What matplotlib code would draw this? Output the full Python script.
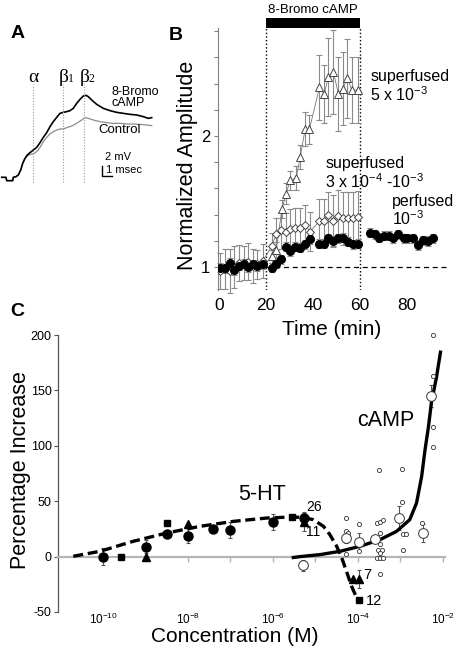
import matplotlib
matplotlib.use('Agg')
import matplotlib.pyplot as plt
import numpy as np

plt.rcParams['font.family'] = ['Liberation Sans', 'DejaVu Sans']
plt.rcParams['mathtext.fontset'] = 'custom'
plt.rcParams['mathtext.rm'] = 'Liberation Sans'
plt.rcParams['mathtext.it'] = 'Liberation Sans:italic'
plt.rcParams['mathtext.bf'] = 'Liberation Sans:bold'
plt.rcParams['axes.unicode_minus'] = False

# ---------------- Panel A : EPSP traces (ms, mV) ----------------
a_drug_ms = [0.17, 0.6, 0.67, 1.27, 1.33, 1.6, 1.83, 2.07, 2.27, 2.5, 2.73, 3.0, 3.33, 3.67, 4.0, 4.33,
             4.67, 5.0, 5.33, 5.67, 6.0, 6.33, 6.67, 7.0, 7.33, 7.67, 8.0, 8.33, 8.6, 8.83, 9.17, 9.67,
             10.33, 11.0, 11.67, 12.33, 13.0, 13.67, 14.33, 14.83, 15.17]
a_drug_mv = [2.53, 2.53, 1.87, 1.87, 2.53, 2.67, 3.0, 4.0, 5.33, 6.33, 7.0, 7.47, 8.0, 8.53, 9.47, 10.53,
             11.47, 12.67, 13.67, 14.53, 15.33, 15.53, 15.67, 15.87, 16.33, 17.33, 18.13, 18.8, 18.93, 18.67,
             18.0, 17.13, 16.33, 15.87, 15.53, 15.33, 15.13, 15.0, 14.67, 14.33, 14.47]
a_ctrl_ms = [0.17, 0.6, 0.67, 1.27, 1.33, 1.6, 1.83, 2.07, 2.27, 2.5, 2.73, 3.0, 3.33, 3.67, 4.0, 4.33,
             4.67, 5.0, 5.33, 5.67, 6.0, 6.33, 6.67, 7.17, 7.67, 8.17, 8.5, 8.83, 9.33, 10.0, 10.67, 11.33,
             12.0, 12.67, 13.33, 14.0, 14.67, 15.17]
a_ctrl_mv = [2.53, 2.53, 1.87, 1.87, 2.53, 2.67, 3.0, 4.0, 5.33, 6.33, 6.8, 7.13, 7.2, 7.67, 8.53, 9.67,
             10.53, 11.2, 11.67, 12.0, 12.2, 12.2, 12.47, 12.8, 13.33, 14.0, 14.47, 14.33, 14.0, 13.67, 13.47,
             13.33, 13.33, 13.2, 13.2, 13.13, 13.0, 12.87]
a_marker_ms = [3.33, 6.33, 8.43]
a_marker_letters = ['α', 'β', 'β']
a_marker_subs = ['', '1', '2']

# ---------------- Panel B : time course ----------------
b_t_pre = [0.4, 2.6, 4.4, 6.4, 8.3, 10.4, 12.2, 14.4, 16.3, 18.6]
b_t_drug = [22.4, 24.3, 26.4, 28.5, 30.2, 32.3, 34.5, 36.6, 38.7, 42.7, 44.7, 46.5, 48.6, 50.8, 52.9,
            55.0, 56.9, 58.9]
b_t_post = [64.2, 66.4, 68.2, 70.0, 72.1, 74.2, 76.3, 78.6, 80.1, 82.4, 84.8, 86.9, 89.0, 91.2]

b_circ_pre = [0.995, 0.99, 1.03, 0.975, 1.01, 1.025, 1.0, 1.02, 1.005, 1.02]
b_circ_drug = [0.995, 1.025, 1.059, 1.155, 1.122, 1.155, 1.148, 1.173, 1.211, 1.178, 1.178, 1.219, 1.198,
               1.219, 1.224, 1.193, 1.173, 1.178]
b_circ_post = [1.262, 1.249, 1.224, 1.237, 1.237, 1.219, 1.249, 1.219, 1.219, 1.219, 1.168, 1.204, 1.198,
               1.219]
b_circ_err = 0.035

b_tri_t = [22.4, 24.3, 26.7, 28.5, 30.2, 32.8, 34.5, 36.6, 38.4, 42.7, 44.7, 46.5, 48.6, 50.8, 52.6, 54.6,
           56.5, 58.9]
b_tri_v = [1.08, 1.13, 1.44, 1.56, 1.66, 1.68, 1.84, 2.05, 2.05, 2.37, 2.32, 2.45, 2.49, 2.32, 2.36, 2.44,
           2.35, 2.35]
b_tri_err = [0.05, 0.06, 0.07, 0.08, 0.07, 0.09, 0.09, 0.13, 0.11, 0.25, 0.22, 0.3, 0.32, 0.28, 0.28, 0.3,
             0.25, 0.25]

b_dia_pre = [0.97, 0.985, 0.97, 1.0, 1.03, 1.03, 1.04, 1.01, 1.02, 1.045]
b_dia_drug = [1.16, 1.25, 1.28, 1.27, 1.29, 1.30, 1.30, 1.32, 1.27, 1.35, 1.35, 1.40, 1.35, 1.39, 1.37, 1.37,
              1.37, 1.38]
b_dia_err_pre = [0.14, 0.15, 0.17, 0.16, 0.14, 0.13, 0.14, 0.13, 0.11, 0.13]
b_dia_err_drug = [0.1, 0.12, 0.14, 0.14, 0.15, 0.15, 0.15, 0.15, 0.15, 0.17, 0.17, 0.17, 0.2, 0.2, 0.2, 0.2,
                  0.2, 0.2]
b_drug_on, b_drug_off = 20, 60
b_xticks = [0, 20, 40, 60, 80]
b_yticks = [1, 2]
b_yminor = [1.2, 1.4, 1.6, 1.8, 2.2, 2.4, 2.6, 2.8]

# ---------------- Panel C : dose response ----------------
c_ht_circ_log = [-10.0, -9.0, -8.5, -8.0, -7.4, -7.0, -6.0, -5.27]
c_ht_circ_val = [0, 9, 20, 19, 25, 24, 31, 35]
c_ht_circ_err = [8, 6, 0, 7, 0, 7, 7, 5]
c_ht_sq_log = [-9.58, -8.5, -5.54, -3.97]
c_ht_sq_val = [0, 30, 36, -39]
c_ht_tri_log = [-9.0, -8.0, -5.27, -4.11, -3.97]
c_ht_tri_val = [0, 29, 31, -20, -20]
c_ht_tri_err = [0, 0, 8, 0, 8]
c_ht_fit_log = [-10.70, -10.07, -9.29, -8.50, -7.72, -6.93, -6.15, -5.60, -5.29, -5.05, -4.81, -4.66,
                -4.50, -4.38, -4.27, -4.15, -4.03]
c_ht_fit_val = [0.3, 4.8, 13.8, 21.3, 27.3, 31.8, 34.8, 35.7, 35.4, 33.3, 27.3, 19.8, 9.3, -1.2, -13.2,
                -26.7, -37.2]

c_camp_fit_log = [-5.56, -5.36, -4.89, -4.42, -3.95, -3.48, -3.09, -2.78, -2.62, -2.50, -2.42, -2.34,
                  -2.27, -2.15, -2.05]
c_camp_fit_val = [-1, 0, 1.8, 4.8, 9.3, 15.3, 22.8, 33.3, 48.4, 72.3, 96.4, 117, 139, 162, 186]
c_camp_mean_log = [-5.29, -4.27, -3.97, -3.6, -3.04, -2.46, -2.27]
c_camp_mean_val = [-8, 17, 13, 16, 35, 21, 145]
c_camp_mean_err = [5, 5, 8, 3, 11, 8, 10]
c_camp_ind_log = [-4.28, -4.28, -4.23, -4.28, -3.97, -3.97, -3.56, -3.48, -3.40, -3.48, -3.48, -3.52,
                  -3.44, -3.48, -3.56, -3.48, -3.40, -3.48, -3.5, -2.97, -2.97, -3.05, -2.95, -2.87,
                  -2.95, -2.48, -2.24, -2.24, -2.24, -2.24]
c_camp_ind_val = [35, 23, 21, 2, 29, 5, 30, 31, 33, 21, 11, 6, 6, 3, -1, -1, -1, -16, 78, 79, 49, 34, 20,
                  20, 6, 30, 200, 163, 117, 99]
c_xtick_exp = [-10, -9, -8, -7, -6, -5, -4, -3, -2]
c_yticks = [-50, 0, 50, 100, 150, 200]

# ================= figure =================
W, H = 462, 652
fig = plt.figure(figsize=(W / 100, H / 100), dpi=100)


def fx(px):
    return px / W


def fy(py):
    return 1 - py / H


# ---- Panel A
axA = fig.add_axes([0, fy(190), fx(160), 130 / H])
axA.set_xlim(0, 16)
axA.set_ylim(0, 26)
axA.axis('off')
axA.plot(a_ctrl_ms, a_ctrl_mv, color='#8c8c8c', lw=0.9)
axA.plot(a_drug_ms, a_drug_mv, color='black', lw=1.2)
for x, let, sub in zip(a_marker_ms, a_marker_letters, a_marker_subs):
    axA.vlines(x, 1.6, 21.2, colors='#9a9a9a', linestyles=(0, (1, 1.5)), lw=0.8)
    axA.text(x, 21.6, let, ha='center', va='baseline', fontsize=14, family='Liberation Serif')
    if sub:
        axA.text(x + 0.45, 21.5, sub, ha='left', va='baseline', fontsize=8.5, family='Liberation Serif')
axA.text(11.2, 16.8, '8-Bromo\ncAMP', fontsize=9, va='baseline', linespacing=0.85)
axA.text(9.8, 11.4, 'Control', fontsize=9.5, va='baseline')
axA.plot([10.17, 10.17, 11.17], [4.8, 2.8, 2.8], color='black', lw=1)
axA.text(10.5, 6.6, '2 mV', fontsize=8, va='center')
axA.text(10.6, 4.0, '1 msec', fontsize=8, va='center')
fig.text(fx(18), fy(34), 'A', fontsize=14, fontweight='bold', ha='center', va='center')

# ---- Panel B
axB = fig.add_axes([fx(218), fy(290), fx(229), 262 / H])
axB.set_xlim(-0.5, 97)
axB.set_ylim(0.824, 2.824)
for s in ['top', 'right', 'bottom']:
    axB.spines[s].set_visible(False)
axB.spines['left'].set_color('#808080')
axB.spines['left'].set_linewidth(0.8)
axB.set_yticks(b_yticks)
axB.set_yticks(b_yminor, minor=True)
axB.tick_params(axis='y', which='both', direction='out', length=3, width=0.8, color='#808080',
                labelsize=12, pad=2.5)
axB.set_xticks(b_xticks)
axB.tick_params(axis='x', length=0, labelsize=12.5, pad=6)

axB.vlines([b_drug_on, b_drug_off], 0.824, 2.824, colors='black', linestyles=(0, (1, 1.6)), lw=1)
axB.hlines(1, b_drug_on, 96.5, colors='black', linestyles=(0, (4, 3)), lw=0.9)
axB.fill_between([b_drug_on, b_drug_off], 2.824, 2.90, color='black', clip_on=False, lw=0)
axB.text((b_drug_on + b_drug_off) / 2, 2.935, '8-Bromo cAMP', ha='center', va='baseline', fontsize=9.5)

b_t_circ = b_t_pre + b_t_drug + b_t_post
b_v_circ = b_circ_pre + b_circ_drug + b_circ_post
b_t_dia = b_t_pre + b_t_drug
b_v_dia = b_dia_pre + b_dia_drug
b_e_dia = b_dia_err_pre + b_dia_err_drug

ekw = dict(fmt='none', ecolor='#8a8a8a', elinewidth=0.8, capsize=2, capthick=0.8, clip_on=False)
axB.errorbar(b_t_dia, b_v_dia, yerr=b_e_dia, **ekw)
axB.errorbar(b_tri_t, b_tri_v, yerr=b_tri_err, **ekw)
axB.errorbar(b_t_circ, b_v_circ, yerr=b_circ_err, **ekw)
axB.plot(b_tri_t, b_tri_v, color='#777777', lw=0.6, marker='^', ms=5.5, mfc='white', mec='#444444',
         mew=0.7, zorder=3)
axB.plot(b_t_dia, b_v_dia, color='#777777', lw=0.6, marker='D', ms=4.3, mfc='white', mec='#444444',
         mew=0.7, zorder=3)
axB.plot(b_t_circ, b_v_circ, ls='none', marker='o', ms=5.5, mfc='black', mec='black', zorder=4)

fs_ann = 11.5
axB.text(64.3, 2.27, 'superfused\n' + r'5 x 10$^{-3}$', fontsize=fs_ann, va='baseline', linespacing=1.05)
axB.text(45.1, 1.605, 'superfused\n' + r'3 x 10$^{-4}$ -10$^{-3}$', fontsize=fs_ann, va='baseline',
         linespacing=1.05)
axB.text(73.5, 1.32, 'perfused\n' + r'10$^{-3}$', fontsize=fs_ann, va='baseline', linespacing=1.05)

fig.text(fx(188), fy(165), 'Normalized Amplitude', rotation=90, fontsize=15.5, ha='center', va='center')
fig.text(fx(332), fy(335), 'Time (min)', fontsize=15, ha='center', va='baseline')
fig.text(fx(176), fy(36), 'B', fontsize=14, fontweight='bold', ha='center', va='center')

# ---- Panel C
axC = fig.add_axes([fx(58), fy(612), fx(387), 277 / H])
axC.set_xscale('log')
axC.set_xlim(10 ** -11.06, 10 ** -1.95)
axC.set_ylim(-50, 200)
for s in ['top', 'right']:
    axC.spines[s].set_visible(False)
axC.spines['bottom'].set_position(('data', 0))
axC.spines['bottom'].set_color('#b5b5b5')
axC.spines['bottom'].set_linewidth(1.6)
axC.spines['left'].set_color('#555555')
axC.spines['left'].set_linewidth(0.9)
axC.set_xticks([10.0 ** k for k in c_xtick_exp])
axC.set_xticklabels([r'$10^{%d}$' % k if k % 2 == 0 else '' for k in c_xtick_exp])
axC.xaxis.set_minor_locator(matplotlib.ticker.NullLocator())
axC.tick_params(axis='x', direction='out', length=3.5, width=1, color='#b5b5b5', labelsize=8.5, pad=36)
axC.set_yticks(c_yticks)
axC.tick_params(axis='y', direction='out', length=3, width=0.8, color='#555555', labelsize=9, pad=1.5)

ht_fit_c = 10.0 ** np.array(c_ht_fit_log)
camp_fit_c = 10.0 ** np.array(c_camp_fit_log)
axC.plot(ht_fit_c, c_ht_fit_val, color='black', lw=2.4, ls=(0, (3, 1.4)), zorder=3)
axC.plot(camp_fit_c, c_camp_fit_val, color='black', lw=2.4, zorder=3, solid_capstyle='butt')

ht_circ_c = 10.0 ** np.array(c_ht_circ_log)
ht_sq_c = 10.0 ** np.array(c_ht_sq_log)
ht_tri_c = 10.0 ** np.array(c_ht_tri_log)
camp_mean_c = 10.0 ** np.array(c_camp_mean_log)
camp_ind_c = 10.0 ** np.array(c_camp_ind_log)

ekwc = dict(fmt='none', ecolor='#555555', elinewidth=0.8, capsize=1.5, capthick=0.8, zorder=2)
axC.errorbar(ht_circ_c, c_ht_circ_val, yerr=c_ht_circ_err, **ekwc)
axC.errorbar(ht_tri_c, c_ht_tri_val, yerr=c_ht_tri_err, **ekwc)
axC.errorbar(camp_mean_c, c_camp_mean_val, yerr=c_camp_mean_err, **ekwc)

axC.plot(camp_ind_c, c_camp_ind_val, ls='none', marker='o', ms=3, mfc='white', mec='#333333', mew=0.6,
         zorder=4, clip_on=False)
axC.plot(camp_mean_c, c_camp_mean_val, ls='none', marker='o', ms=7, mfc='white', mec='#333333', mew=0.7,
         zorder=5)
axC.plot(ht_circ_c, c_ht_circ_val, ls='none', marker='o', ms=6.5, color='black', zorder=5)
axC.plot(ht_sq_c, c_ht_sq_val, ls='none', marker='s', ms=5, color='black', zorder=5)
axC.plot(ht_tri_c, c_ht_tri_val, ls='none', marker='^', ms=6, color='black', zorder=5)

fig.text(fx(262), fy(495), '5-HT', fontsize=15.5, ha='center', va='center')
fig.text(fx(386), fy(420), 'cAMP', fontsize=15.5, ha='center', va='center')
fig.text(fx(314), fy(507), '26', fontsize=10, ha='center', va='center')
fig.text(fx(313), fy(532), '11', fontsize=10, ha='center', va='center')
fig.text(fx(367), fy(575), '7', fontsize=10.5, ha='center', va='center')
fig.text(fx(374), fy(601), '12', fontsize=10.5, ha='center', va='center')

fig.text(fx(235), fy(637), 'Concentration (M)', fontsize=15, ha='center', va='center')
fig.text(fx(21), fy(470), 'Percentage Increase', rotation=90, fontsize=15.5, ha='center', va='center')
fig.text(fx(17), fy(312), 'C', fontsize=14, fontweight='bold', ha='center', va='center')

fig.savefig('out.png', dpi=100)
